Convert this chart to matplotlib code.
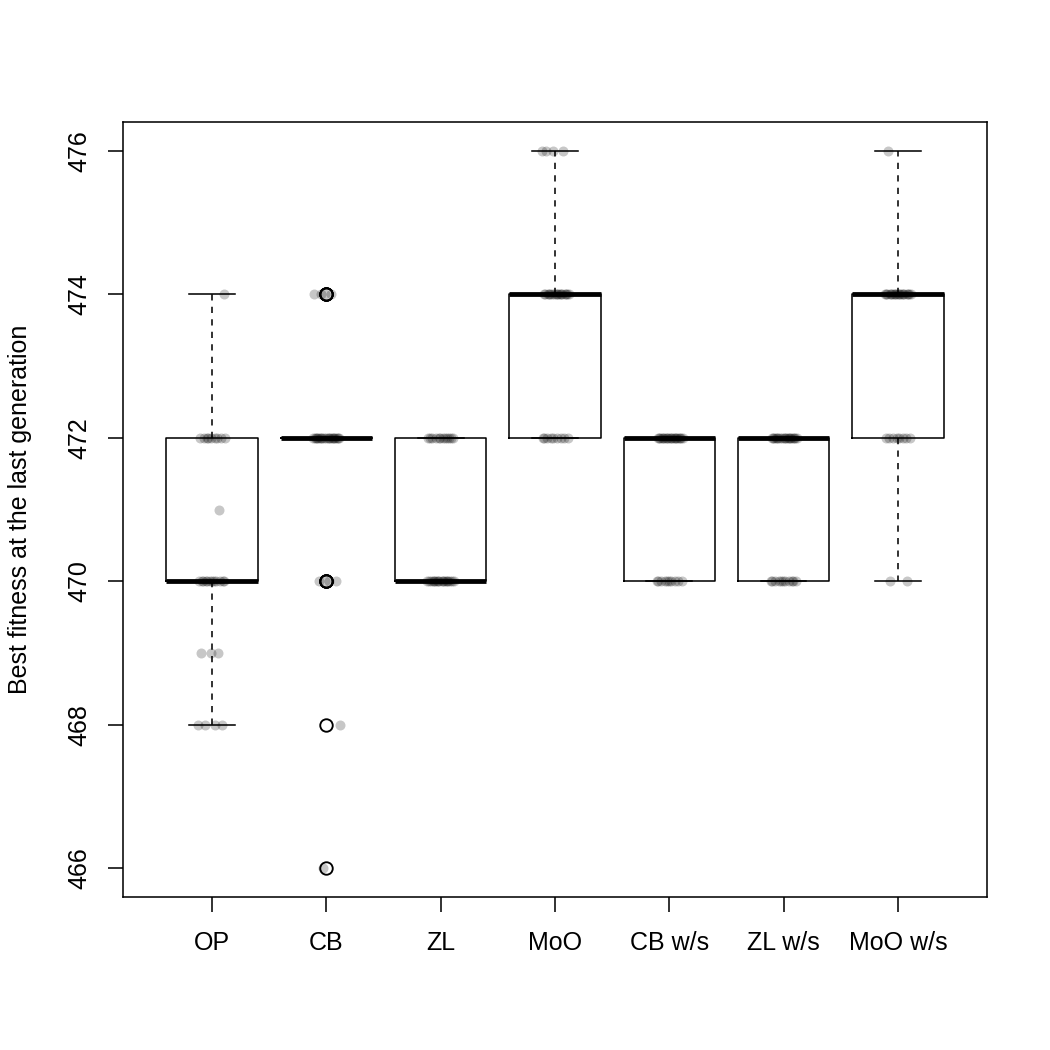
import numpy as np
import matplotlib
matplotlib.use("Agg")
import matplotlib.pyplot as plt

plt.rcParams['font.family'] = ['Liberation Sans', 'DejaVu Sans']

# groups and their best-fitness values (value, how many runs ended there)
groups = ["OP", "CB", "ZL", "MoO", "CB w/s", "ZL w/s", "MoO w/s"]
op_vals, op_counts = [468, 469, 470, 471, 472, 474], [4, 3, 12, 1, 9, 1]
cb_vals, cb_counts = [466, 468, 470, 472, 474], [1, 1, 4, 20, 4]
zl_vals, zl_counts = [470, 472], [18, 12]
moo_vals, moo_counts = [472, 474, 476], [9, 17, 4]
cbws_vals, cbws_counts = [470, 472], [10, 20]
zlws_vals, zlws_counts = [470, 472], [11, 19]
moows_vals, moows_counts = [470, 472, 474, 476], [2, 8, 19, 1]

all_vals = [op_vals, cb_vals, zl_vals, moo_vals, cbws_vals, zlws_vals, moows_vals]
all_counts = [op_counts, cb_counts, zl_counts, moo_counts, cbws_counts, zlws_counts, moows_counts]
data = [np.repeat(v, c) for v, c in zip(all_vals, all_counts)]
positions = np.arange(1, len(groups) + 1)

fig = plt.figure(figsize=(7, 7), dpi=150)
ax = fig.add_axes([123 / 1050, 153 / 1050, 864 / 1050, 775 / 1050])

lw = 0.75
ax.boxplot(data, positions=positions, widths=0.8, whis=1.5,
           capwidths=0.4,
           boxprops=dict(color="black", lw=lw),
           medianprops=dict(color="black", lw=2.3, solid_capstyle="butt"),
           whiskerprops=dict(color="black", lw=lw, linestyle=(0, (4, 4))),
           capprops=dict(color="black", lw=lw),
           flierprops=dict(marker="o", markerfacecolor="none", markeredgecolor="black",
                           markersize=6, markeredgewidth=0.9),
           zorder=2)

# jittered points on top of the boxes
for i, d in enumerate(data):
    k = np.arange(len(d))
    offs = ((k * 0.618034 + i * 0.37) % 1 - 0.5) * 0.24
    ax.plot(positions[i] + offs, d, "o", color="black", alpha=0.22,
            markersize=4.8, markeredgewidth=0, zorder=3)

ax.set_xlim(0.22, 7.78)
ax.set_ylim(465.6, 476.4)
ax.set_xticks(positions)
ax.set_xticklabels(groups, fontsize=12)
ax.set_yticks(np.arange(466, 477, 2))
ax.set_yticklabels([str(v) for v in range(466, 477, 2)], fontsize=12,
                   rotation=90, va="center")
ax.tick_params(axis="both", length=7.2, width=lw, direction="out")
ax.tick_params(axis="x", pad=9)
ax.tick_params(axis="y", pad=8)
for s in ax.spines.values():
    s.set_linewidth(lw)

ax.text(-0.111, 0.5, "Best fitness at the last generation", transform=ax.transAxes,
        rotation=90, ha="center", va="baseline", rotation_mode="anchor", fontsize=12)

fig.savefig("out.png", dpi=150, facecolor="white")
